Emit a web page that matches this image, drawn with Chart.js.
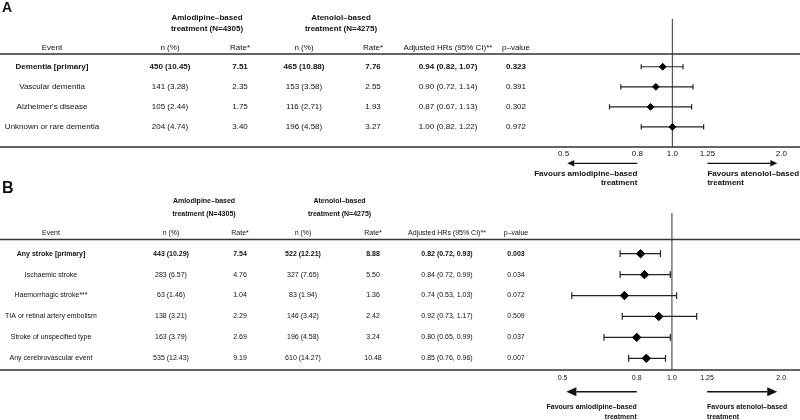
<!DOCTYPE html>
<html>
<head>
<meta charset="utf-8">
<script src="https://cdn.jsdelivr.net/npm/chart.js@4.4.1/dist/chart.umd.min.js"></script>
<style>
  body { margin: 0; background: #fff; }
  #wrap { position: relative; width: 800px; height: 420px; overflow: hidden; }
  canvas { position: absolute; left: 0; }
</style>
</head>
<body>
<div id="wrap">
  <canvas id="chartA" width="800" height="200" style="top:0"></canvas>
  <canvas id="chartB" width="800" height="240" style="top:180px"></canvas>
</div>
<script>
var FONT = '"Liberation Sans", Arial, Helvetica, sans-serif';

// shared labels
var tickValues = [0.5, 0.8, 1.0, 1.25, 2.0];
var tickLabels = ['0.5', '0.8', '1.0', '1.25', '2.0'];
var colHeaders = ['Event', 'n (%)', 'Rate*', 'n (%)', 'Rate*', 'Adjusted HRs (95% CI)**', 'p–value'];
var groupAmlo = ['Amlodipine–based', 'treatment (N=4305)'];
var groupAten = ['Atenolol–based', 'treatment (N=4275)'];
var favoursLeft = ['Favours amlodipine–based', 'treatment'];
var favoursRight = ['Favours atenolol–based', 'treatment'];

// panel A - dementia
var eventsA = ['Dementia [primary]', 'Vascular dementia', "Alzheimer's disease", 'Unknown or rare dementia'];
var amloNA = ['450 (10.45)', '141 (3.28)', '105 (2.44)', '204 (4.74)'];
var amloRateA = ['7.51', '2.35', '1.75', '3.40'];
var atenNA = ['465 (10.88)', '153 (3.58)', '116 (2.71)', '196 (4.58)'];
var atenRateA = ['7.76', '2.55', '1.93', '3.27'];
var hrA = [0.94, 0.90, 0.87, 1.00];
var loA = [0.82, 0.72, 0.67, 0.82];
var hiA = [1.07, 1.14, 1.13, 1.22];
var pA = ['0.323', '0.391', '0.302', '0.972'];

// panel B - stroke
var eventsB = ['Any stroke [primary]', 'Ischaemic stroke', 'Haemorrhagic stroke***', 'TIA or retinal artery embolism', 'Stroke of unspecified type', 'Any cerebrovascular event'];
var amloNB = ['443 (10.29)', '283 (6.57)', '63 (1.46)', '138 (3.21)', '163 (3.79)', '535 (12.43)'];
var amloRateB = ['7.54', '4.76', '1.04', '2.29', '2.69', '9.19'];
var atenNB = ['522 (12.21)', '327 (7.65)', '83 (1.94)', '146 (3.42)', '196 (4.58)', '610 (14.27)'];
var atenRateB = ['8.88', '5.50', '1.36', '2.42', '3.24', '10.48'];
var hrB = [0.82, 0.84, 0.74, 0.92, 0.80, 0.85];
var loB = [0.72, 0.72, 0.53, 0.73, 0.65, 0.76];
var hiB = [0.93, 0.99, 1.03, 1.17, 0.99, 0.96];
var pB = ['0.003', '0.034', '0.072', '0.509', '0.037', '0.007'];

var panels = {
  chartA: {
    events: eventsA, amloN: amloNA, amloRate: amloRateA, atenN: atenNA, atenRate: atenRateA,
    hr: hrA, lo: loA, hi: hiA, p: pA,
    style: {
      label: 'A', labelSize: 14, labelY: 8,
      font: 8, groupY: [18, 28.5], groupX: [207, 341], headY: 47.5,
      colX: [52, 170, 240, 304, 373, 448, 516],
      refTop: 19, arrowY: 163.3, head: [7, 3.2], arrowW: 1.3, arrowEnds: [0.512, 1.95],
      favY: [173.3, 182.7], capR: 2.6, diamondR: 3.4,
      padding: { left: 547, right: 0, top: 54, bottom: 39 }, ymin: -0.635, ymax: 4.0, tickPad: 2
    }
  },
  chartB: {
    events: eventsB, amloN: amloNB, amloRate: amloRateB, atenN: atenNB, atenRate: atenRateB,
    hr: hrB, lo: loB, hi: hiB, p: pB,
    style: {
      label: 'B', labelSize: 16, labelY: 9,
      font: 7, groupY: [21, 34], groupX: [204, 339.5], headY: 53.3,
      colX: [51, 171, 240, 303, 373, 447, 516],
      refTop: 33, arrowY: 211.7, head: [10, 4.5], arrowW: 1.5, arrowEnds: [0.512, 1.95],
      favY: [227.3, 237.5], capR: 3.4, diamondR: 4.2,
      padding: { left: 546, right: 2, top: 59.5, bottom: 36 }, ymin: -0.68, ymax: 5.56, tickPad: 4
    }
  }
};

function txt(ctx, s, x, y, size, bold, align) {
  ctx.font = (bold ? 'bold ' : '') + size + 'px ' + FONT;
  ctx.textAlign = align || 'center';
  ctx.textBaseline = 'middle';
  ctx.fillText(s, x, y);
}

function arrow(ctx, x0, x1, y, head, w) {
  var dir = x1 > x0 ? 1 : -1;
  ctx.lineWidth = w;
  ctx.beginPath();
  ctx.moveTo(x0, y);
  ctx.lineTo(x1 - dir * head[0], y);
  ctx.stroke();
  ctx.beginPath();
  ctx.moveTo(x1, y);
  ctx.lineTo(x1 - dir * head[0], y - head[1]);
  ctx.lineTo(x1 - dir * head[0], y + head[1]);
  ctx.closePath();
  ctx.fill();
}

var forestTable = {
  id: 'forestTable',
  beforeDatasetsDraw: function (chart) {
    var p = panels[chart.canvas.id], s = p.style;
    var ctx = chart.ctx, a = chart.chartArea;
    var px = chart.scales.x.getPixelForValue(1);
    ctx.save();
    ctx.strokeStyle = '#555';
    ctx.lineWidth = 1.2;
    ctx.beginPath();
    ctx.moveTo(px, s.refTop);
    ctx.lineTo(px, a.bottom);
    ctx.stroke();
    ctx.restore();
  },
  afterDraw: function (chart) {
    var p = panels[chart.canvas.id], s = p.style;
    var ctx = chart.ctx, a = chart.chartArea;
    var xs = chart.scales.x, ys = chart.scales.y;
    ctx.save();
    ctx.fillStyle = '#111';
    ctx.strokeStyle = '#333';

    txt(ctx, s.label, 2, s.labelY, s.labelSize, true, 'left');

    [groupAmlo, groupAten].forEach(function (g, k) {
      txt(ctx, g[0], s.groupX[k], s.groupY[0], s.font, true);
      txt(ctx, g[1], s.groupX[k], s.groupY[1], s.font, true);
    });
    colHeaders.forEach(function (h, k) {
      txt(ctx, h, s.colX[k], s.headY, s.font, false);
    });

    // table rules
    ctx.lineWidth = 1.5;
    ctx.beginPath();
    ctx.moveTo(0, a.top); ctx.lineTo(chart.width, a.top);
    ctx.moveTo(0, a.bottom); ctx.lineTo(chart.width, a.bottom);
    ctx.stroke();

    p.events.forEach(function (ev, i) {
      var y = ys.getPixelForValue(i);
      var hrText = p.hr[i].toFixed(2) + ' (' + p.lo[i].toFixed(2) + ', ' + p.hi[i].toFixed(2) + ')';
      var cells = [ev, p.amloN[i], p.amloRate[i], p.atenN[i], p.atenRate[i], hrText, p.p[i]];
      cells.forEach(function (c, k) {
        txt(ctx, c, s.colX[k], y, s.font, i === 0);
      });
    });

    // favours arrows
    var xl = xs.getPixelForValue(0.8), xr = xs.getPixelForValue(1.25);
    ctx.strokeStyle = '#111';
    arrow(ctx, xl, xs.getPixelForValue(s.arrowEnds[0]), s.arrowY, s.head, s.arrowW);
    arrow(ctx, xr, xs.getPixelForValue(s.arrowEnds[1]), s.arrowY, s.head, s.arrowW);
    txt(ctx, favoursLeft[0], xl, s.favY[0], s.font, true, 'right');
    txt(ctx, favoursLeft[1], xl, s.favY[1], s.font, true, 'right');
    txt(ctx, favoursRight[0], xr, s.favY[0], s.font, true, 'left');
    txt(ctx, favoursRight[1], xr, s.favY[1], s.font, true, 'left');
    ctx.restore();
  }
};

function buildDatasets(p) {
  var s = p.style;
  var ds = [{
    data: p.hr.map(function (v, i) { return { x: v, y: i }; }),
    pointStyle: 'rectRot',
    pointRadius: s.diamondR,
    backgroundColor: '#000',
    borderColor: '#000',
    borderWidth: 1
  }];
  p.hr.forEach(function (v, i) {
    ds.push({
      data: [{ x: p.lo[i], y: i }, { x: p.hi[i], y: i }],
      showLine: true,
      borderColor: '#222',
      borderWidth: 1.2,
      pointStyle: 'line',
      rotation: 90,
      pointRadius: s.capR,
      pointBorderColor: '#222',
      pointBorderWidth: 1.2
    });
  });
  return ds;
}

['chartA', 'chartB'].forEach(function (id) {
  var p = panels[id], s = p.style;
  var ctx = document.getElementById(id).getContext('2d');
  new Chart(ctx, {
    type: 'scatter',
    data: { datasets: buildDatasets(p) },
    options: {
      responsive: false,
      animation: false,
      devicePixelRatio: 1,
      layout: { padding: s.padding },
      plugins: { legend: { display: false }, tooltip: { enabled: false } },
      scales: {
        x: {
          type: 'logarithmic',
          min: 0.45,
          max: 2.18,
          grid: { display: false, drawTicks: false },
          border: { display: false },
          afterBuildTicks: function (scale) {
            scale.ticks = tickValues.map(function (v) { return { value: v }; });
          },
          afterFit: function (scale) { scale.height = 14; },
          ticks: {
            autoSkip: false,
            maxRotation: 0,
            padding: s.tickPad,
            color: '#111',
            font: { family: FONT, size: s.font },
            callback: function (value, index) { return tickLabels[index]; }
          }
        },
        y: { type: 'linear', display: false, reverse: true, min: s.ymin, max: s.ymax }
      }
    },
    plugins: [forestTable]
  });
});
</script>
</body>
</html>
